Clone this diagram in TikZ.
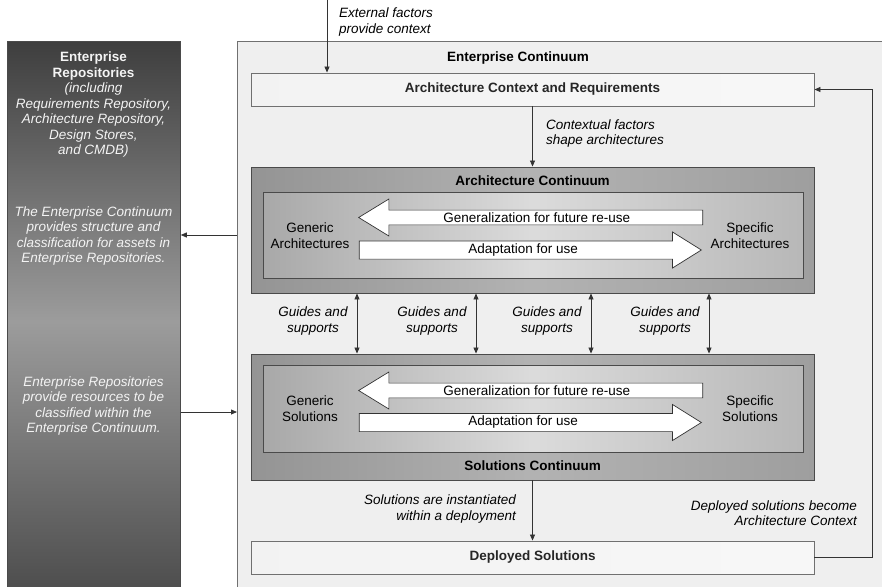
\documentclass[tikz,border=0pt]{standalone}
\usepackage{fontspec}
\setmainfont{Liberation Sans}
\usepackage{xcolor}
\usetikzlibrary{arrows.meta,shapes.arrows}
\definecolor{ecfill}{HTML}{EFEFEF}
\definecolor{ecline}{HTML}{707070}
\definecolor{dline}{HTML}{333333}
\definecolor{boxline}{HTML}{4A4A4A}
\definecolor{repotop}{HTML}{3E3E3E}
\definecolor{repomid}{HTML}{9C9C9C}
\definecolor{repobot}{HTML}{4A4A4A}
\definecolor{reptext}{HTML}{F4F4F4}

\tikzset{
  txt/.style={font=\fontsize{13.5}{15.5}\selectfont,inner sep=0pt,align=center},
  lbl/.style={txt,font=\fontsize{13.5}{15.5}\selectfont\itshape},
  ttl/.style={txt,font=\fontsize{13.5}{15.5}\selectfont\bfseries},
  rtxt/.style={txt,text=reptext},
  conn/.style={draw=dline,line width=0.8pt,-{Triangle[length=6pt,width=5pt]}},
  both/.style={draw=dline,line width=0.8pt,{Triangle[length=6pt,width=5pt]}-{Triangle[length=6pt,width=5pt]}},
  repobox/.style={draw=boxline,line width=0.8pt,top color=repotop,bottom color=repobot,middle color=repomid},
  ecbox/.style={draw=ecline,line width=0.8pt,fill=ecfill},
  lightbox/.style={draw=ecline,line width=0.9pt,left color=white!95!black,right color=white!97!black,
    font=\fontsize{13.5}{15.5}\selectfont\bfseries,text=black!85},
  contbox/.style={draw=boxline,line width=0.9pt,left color=black!42,right color=black!38,middle color=black!30},
  innerbox/.style={draw=boxline,line width=0.9pt,left color=black!34,right color=black!28,middle color=black!14},
  genarrow/.style={single arrow,draw=dline,line width=0.7pt,fill=white,shape border rotate=180,
    minimum height=344,minimum width=37,single arrow head extend=8,single arrow tip angle=63,
    inner ysep=0pt,inner xsep=2pt,anchor=tip,font=\fontsize{13.5}{15.5}\selectfont},
  adparrow/.style={single arrow,draw=dline,line width=0.7pt,fill=white,
    minimum height=342,minimum width=36,single arrow head extend=6.5,single arrow tip angle=64,
    inner ysep=0pt,inner xsep=2pt,anchor=tip,font=\fontsize{13.5}{15.5}\selectfont}
}

\begin{document}
\begin{tikzpicture}[x=1pt,y=-1pt]
\useasboundingbox(0,0)rectangle(882,586);
\clip(0,0)rectangle(882,586);

% repositories and the continuum frame
\node[repobox,minimum width=173,minimum height=560,anchor=north west](repo)at(7,41){};
\node[ecbox,minimum width=680,minimum height=560,anchor=north west](ec)at(237,41){};

\node[rtxt](repottl)at(93.5,105){\textbf{Enterprise}\\\textbf{Repositories}\\\textit{(including}\\\textit{Requirements Repository,}\\\textit{Architecture Repository,}\\\textit{Design Stores,}\\\textit{and CMDB)}};
\node[rtxt,font=\fontsize{13.5}{15.5}\selectfont\itshape](repo1)at(93.5,236){The Enterprise Continuum\\provides structure and\\classification for assets in\\Enterprise Repositories.};
\node[rtxt,font=\fontsize{13.5}{15.5}\selectfont\itshape](repo2)at(93.5,406){Enterprise Repositories\\provide resources to be\\classified within the\\Enterprise Continuum.};

\node[ttl](ecttl)at(518,58){Enterprise Continuum};
\node[lightbox,minimum width=563,minimum height=33](acr)at(532.5,89.5){Architecture Context and Requirements};

% architecture continuum
\node[contbox,minimum width=563,minimum height=126](arch)at(532.5,230){};
\node[innerbox,minimum width=540,minimum height=86](archin)at(533,235){};
\node[ttl](archttl)at(532.5,180.5){Architecture Continuum};
\node[txt](genarch)at(310,235.5){Generic\\Architectures};
\node[txt](specarch)at(750,235.5){Specific\\Architectures};
\node[genarrow](gen1)at(358,217.5){Generalization for future re-use};
\node[adparrow](adp1)at(702,250){Adaptation for use};

% solutions continuum
\node[contbox,minimum width=563,minimum height=126](sol)at(532.5,417){};
\node[innerbox,minimum width=540,minimum height=87](solin)at(533,408.5){};
\node[ttl](solttl)at(532.5,466){Solutions Continuum};
\node[txt](gensol)at(310,408.5){Generic\\Solutions};
\node[txt](specsol)at(750,408.5){Specific\\Solutions};
\node[genarrow](gen2)at(358,390.5){Generalization for future re-use};
\node[adparrow](adp2)at(702,422.5){Adaptation for use};

\node[lightbox,minimum width=563,minimum height=33](dep)at(532.5,557.5){Deployed Solutions};

% connectors
\coordinate(ext)at(327,0);
\draw[conn](ext)--(ext|-acr.north);
\node[lbl,anchor=west,align=left](extlbl)at(339,22){External factors\\provide context};

\draw[conn](acr.south)--(arch.north);
\node[lbl,anchor=west,align=left](ctxlbl)at(546,133.5){Contextual factors\\shape architectures};

\foreach\x/\n in{357/a,476/b,591/c,709/d}{
  \coordinate(g\n)at(\x,0);
  \draw[both](g\n|-arch.south)--(g\n|-sol.north);
  \node[lbl](gl\n)at(\x-44,321){Guides and\\supports};
}

\draw[conn](sol.south)--(dep.north);
\node[lbl,anchor=east,align=right](instlbl)at(516,509){Solutions are instantiated\\within a deployment};

\coordinate(loop)at(872,0);
\draw[conn](dep.east)--(dep.east-|loop)--(loop|-acr.east)--(acr.east);
\node[lbl,anchor=east,align=right](looplbl)at(857,513){Deployed solutions become\\Architecture Context};

\coordinate(r1)at(0,235);\coordinate(r2)at(0,412);
\draw[conn](ec.west|-r1)--(repo.east|-r1);
\draw[conn](repo.east|-r2)--(ec.west|-r2);
\end{tikzpicture}
\end{document}
